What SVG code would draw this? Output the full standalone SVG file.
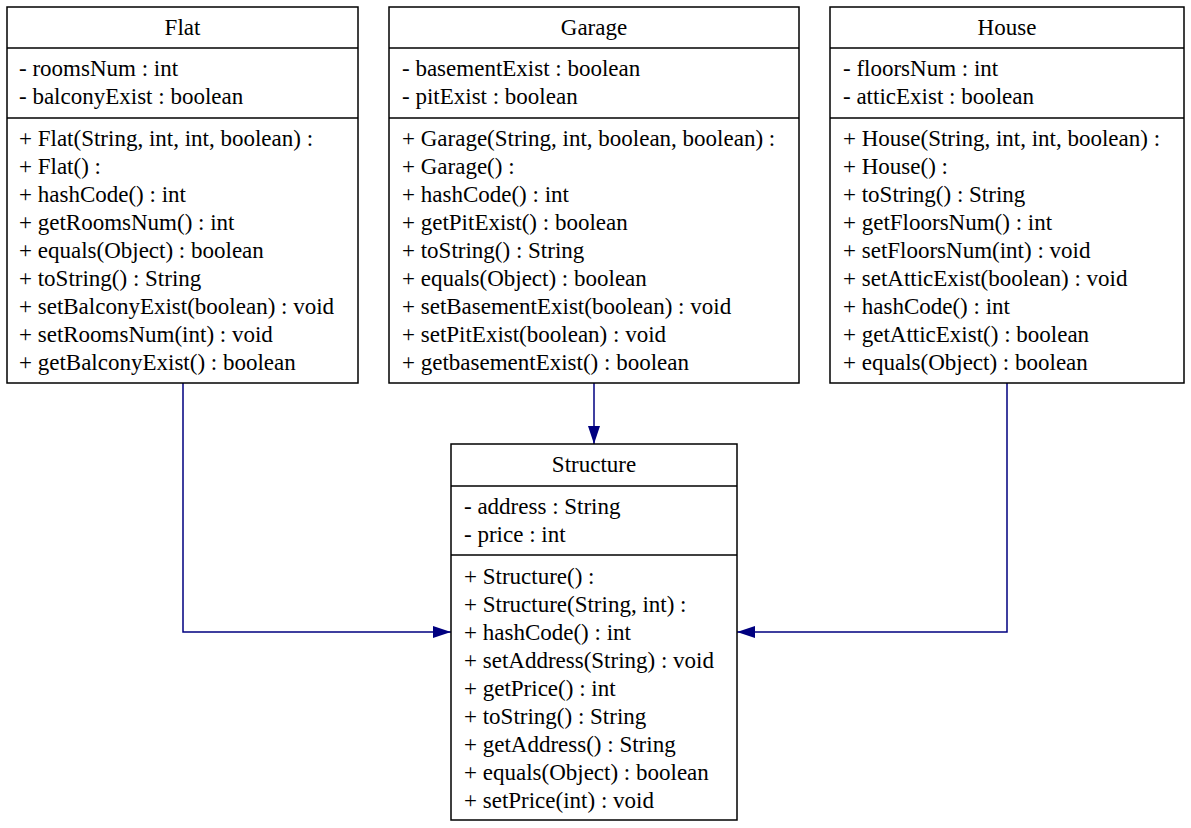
<svg xmlns="http://www.w3.org/2000/svg" width="1191" height="828" viewBox="0 0 1191 828">
<style>
.box{fill:#fff;stroke:#000;stroke-width:1.5}
.sep{stroke:#000;stroke-width:1.5}
text{font-family:"Liberation Serif","Times New Roman",serif;font-size:23px;fill:#000}
.t{text-anchor:middle}
.edge{fill:none;stroke:#000080;stroke-width:1.5}
</style>
<defs>
<marker id="arr" viewBox="0 0 18 12" refX="18" refY="6" markerWidth="18" markerHeight="12" markerUnits="userSpaceOnUse" orient="auto">
<path d="M0,0 L18,6 L0,12 Z" fill="#000080"/>
</marker>
</defs>
<rect width="1191" height="828" fill="#fff"/>
<g id="connectors">
<path class="edge" d="M183,383 V632 H451" marker-end="url(#arr)"/>
<path class="edge" d="M594,383 V444" marker-end="url(#arr)"/>
<path class="edge" d="M1007,383 V632 H737" marker-end="url(#arr)"/>
</g>
<g id="Flat">
<rect class="box" x="7" y="7" width="351" height="376"/>
<line class="sep" x1="7" y1="48" x2="358" y2="48"/>
<line class="sep" x1="7" y1="118" x2="358" y2="118"/>
<text class="t" x="182.5" y="35">Flat</text>
<text x="19" y="76">- roomsNum : int</text>
<text x="19" y="104">- balconyExist : boolean</text>
<text x="19" y="146">+ Flat(String, int, int, boolean) :</text>
<text x="19" y="174">+ Flat() :</text>
<text x="19" y="202">+ hashCode() : int</text>
<text x="19" y="230">+ getRoomsNum() : int</text>
<text x="19" y="258">+ equals(Object) : boolean</text>
<text x="19" y="286">+ toString() : String</text>
<text x="19" y="314">+ setBalconyExist(boolean) : void</text>
<text x="19" y="342">+ setRoomsNum(int) : void</text>
<text x="19" y="370">+ getBalconyExist() : boolean</text>
</g>
<g id="Garage">
<rect class="box" x="389" y="7" width="410" height="376"/>
<line class="sep" x1="389" y1="48" x2="799" y2="48"/>
<line class="sep" x1="389" y1="118" x2="799" y2="118"/>
<text class="t" x="594" y="35">Garage</text>
<text x="402" y="76">- basementExist : boolean</text>
<text x="402" y="104">- pitExist : boolean</text>
<text x="402" y="146">+ Garage(String, int, boolean, boolean) :</text>
<text x="402" y="174">+ Garage() :</text>
<text x="402" y="202">+ hashCode() : int</text>
<text x="402" y="230">+ getPitExist() : boolean</text>
<text x="402" y="258">+ toString() : String</text>
<text x="402" y="286">+ equals(Object) : boolean</text>
<text x="402" y="314">+ setBasementExist(boolean) : void</text>
<text x="402" y="342">+ setPitExist(boolean) : void</text>
<text x="402" y="370">+ getbasementExist() : boolean</text>
</g>
<g id="House">
<rect class="box" x="830" y="7" width="354" height="376"/>
<line class="sep" x1="830" y1="48" x2="1184" y2="48"/>
<line class="sep" x1="830" y1="118" x2="1184" y2="118"/>
<text class="t" x="1007" y="35">House</text>
<text x="843" y="76">- floorsNum : int</text>
<text x="843" y="104">- atticExist : boolean</text>
<text x="843" y="146">+ House(String, int, int, boolean) :</text>
<text x="843" y="174">+ House() :</text>
<text x="843" y="202">+ toString() : String</text>
<text x="843" y="230">+ getFloorsNum() : int</text>
<text x="843" y="258">+ setFloorsNum(int) : void</text>
<text x="843" y="286">+ setAtticExist(boolean) : void</text>
<text x="843" y="314">+ hashCode() : int</text>
<text x="843" y="342">+ getAtticExist() : boolean</text>
<text x="843" y="370">+ equals(Object) : boolean</text>
</g>
<g id="Structure">
<rect class="box" x="451" y="444" width="286" height="376"/>
<line class="sep" x1="451" y1="486" x2="737" y2="486"/>
<line class="sep" x1="451" y1="555" x2="737" y2="555"/>
<text class="t" x="594" y="472">Structure</text>
<text x="464" y="514">- address : String</text>
<text x="464" y="542">- price : int</text>
<text x="464" y="584">+ Structure() :</text>
<text x="464" y="612">+ Structure(String, int) :</text>
<text x="464" y="640">+ hashCode() : int</text>
<text x="464" y="668">+ setAddress(String) : void</text>
<text x="464" y="696">+ getPrice() : int</text>
<text x="464" y="724">+ toString() : String</text>
<text x="464" y="752">+ getAddress() : String</text>
<text x="464" y="780">+ equals(Object) : boolean</text>
<text x="464" y="808">+ setPrice(int) : void</text>
</g>
</svg>
